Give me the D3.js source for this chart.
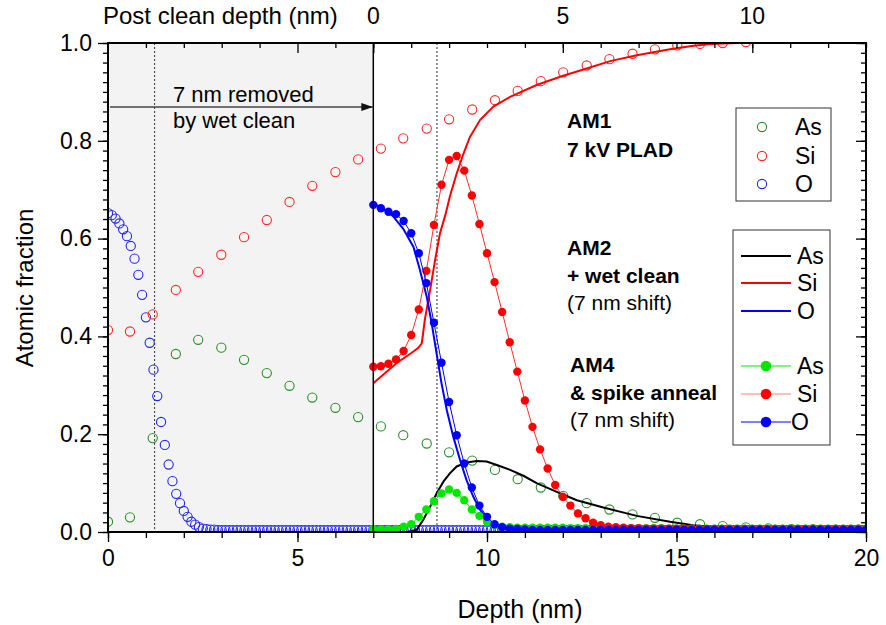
<!DOCTYPE html>
<html>
<head>
<meta charset="utf-8">
<script src="https://cdn.jsdelivr.net/npm/d3@7"></script>
<style>
body { margin: 0; background: #fff; }
text { font-family: "Liberation Sans", Arial, sans-serif; fill: #000; }
</style>
</head>
<body>
<svg id="chart" width="886" height="625"></svg>
<script>

// AM1, 7 kV PLAD (open circles)
var am1Depth = [0.0, 0.58, 1.18, 1.79, 2.38, 2.99, 3.59, 4.19, 4.79, 5.39, 6.0, 6.6, 7.2, 7.79, 8.41, 9.0,
  9.61, 10.21, 10.81, 11.42, 12.01, 12.63, 13.23, 13.84, 14.43, 15.02, 15.62, 16.22, 16.83, 17.42,
  18.04, 18.6, 19.2, 19.8]
var am1As = [0.021, 0.030, 0.192, 0.364, 0.393, 0.377, 0.352, 0.325, 0.299, 0.275, 0.254, 0.235, 0.216,
  0.198, 0.181, 0.163, 0.146, 0.127, 0.108, 0.091, 0.074, 0.059, 0.046, 0.036, 0.029, 0.019, 0.016,
  0.012, 0.0096, 0.0075, 0.006, 0.006, 0.005, 0.005]
var am1Si = [0.413, 0.410, 0.445, 0.495, 0.532, 0.567, 0.603, 0.638, 0.675, 0.708, 0.736, 0.762, 0.784,
  0.805, 0.825, 0.844, 0.864, 0.883, 0.902, 0.922, 0.940, 0.954, 0.967, 0.978, 0.987, 0.995, 0.998,
  1.0, 1.002]
// O is sampled every 0.1 nm
var am1OStep = 0.1
var am1O = [0.652, 0.648, 0.641, 0.631, 0.619, 0.605, 0.585, 0.559, 0.526, 0.485, 0.439, 0.387, 0.332,
  0.278, 0.225, 0.178, 0.138, 0.104, 0.078, 0.059, 0.043, 0.031, 0.021, 0.015, 0.010, 0.007, 0.006,
  0.005, 0.005, 0.004,
  0.004, 0.004, 0.004, 0.004, 0.004, 0.004, 0.004, 0.004, 0.004, 0.004, 0.004, 0.004, 0.004, 0.004, 0.004, 0.004, 0.004, 0.004, 0.004, 0.004,
  0.004, 0.004, 0.004, 0.004, 0.004, 0.004, 0.004, 0.004, 0.004, 0.004, 0.004, 0.004, 0.004, 0.004, 0.004, 0.004, 0.004, 0.004, 0.004, 0.004,
  0.004, 0.004, 0.004, 0.004, 0.004, 0.004, 0.004, 0.004, 0.004, 0.004, 0.004, 0.004, 0.004, 0.004, 0.004, 0.004, 0.004, 0.004, 0.004, 0.004,
  0.004, 0.004, 0.004, 0.004, 0.004, 0.004, 0.004, 0.004, 0.004, 0.004, 0.004, 0.004, 0.004, 0.004, 0.004, 0.004, 0.004, 0.004, 0.004, 0.004,
  0.004, 0.004, 0.004, 0.004, 0.004, 0.004, 0.004, 0.004, 0.004, 0.004, 0.004, 0.004, 0.004, 0.004, 0.004, 0.004, 0.004, 0.004, 0.004, 0.004,
  0.004, 0.004, 0.004, 0.004, 0.004, 0.004, 0.004, 0.004, 0.004, 0.004, 0.004, 0.004, 0.004, 0.004, 0.004, 0.004, 0.004, 0.004, 0.004, 0.004,
  0.004, 0.004, 0.004, 0.004, 0.004, 0.004, 0.004, 0.004, 0.004, 0.004, 0.004, 0.004, 0.004, 0.004, 0.004, 0.004, 0.004, 0.004, 0.004, 0.004,
  0.004, 0.004, 0.004, 0.004, 0.004, 0.004, 0.004, 0.004, 0.004, 0.004, 0.004, 0.004, 0.004, 0.004, 0.004, 0.004, 0.004, 0.004, 0.004, 0.004,
  0.004, 0.004, 0.004, 0.004, 0.004, 0.004, 0.004, 0.004, 0.004, 0.004, 0.004]

// AM2, + wet clean, shifted 7 nm (solid lines)
var am2AsDepth = [7.0, 7.9, 8.14, 8.32, 8.50, 8.67, 8.85, 9.02, 9.2, 9.46, 9.73, 9.99, 10.26, 10.61, 10.96,
  11.31, 11.84, 12.37, 13.07, 13.95, 14.83, 15.44, 16.32, 16.9, 20]
var am2As = [0.0, 0.0, 0.004, 0.025, 0.052, 0.079, 0.103, 0.120, 0.134, 0.142, 0.145, 0.144, 0.137, 0.127,
  0.115, 0.100, 0.082, 0.065, 0.050, 0.033, 0.021, 0.014, 0.0075, 0.003, 0.0]
var am2SiDepth = [7.0, 7.61, 8.06, 8.18, 8.28, 8.36, 8.50, 8.63, 8.76, 8.9, 9.02, 9.2, 9.38, 9.55, 9.82,
  10.17, 10.61, 11.31, 12.01, 12.63, 13.25, 13.95, 14.83, 15.4, 15.9, 16.6]
var am2Si = [0.304, 0.345, 0.369, 0.376, 0.386, 0.434, 0.495, 0.556, 0.611, 0.648, 0.686, 0.733, 0.774,
  0.808, 0.843, 0.870, 0.890, 0.914, 0.933, 0.948, 0.963, 0.975, 0.987, 0.994, 0.998, 1.0]
var am2ODepth = [7.0, 7.26, 7.53, 7.79, 8.06, 8.23, 8.41, 8.54, 8.67, 8.80, 8.94, 9.11, 9.29, 9.46, 9.64,
  9.82, 10.08, 10.43, 10.8, 11.5, 20]
var am2O = [0.672, 0.662, 0.645, 0.620, 0.583, 0.536, 0.481, 0.427, 0.365, 0.304, 0.249, 0.195, 0.147,
  0.106, 0.072, 0.045, 0.021, 0.0075, 0.004, 0.003, 0.003]

// AM4, & spike anneal, shifted 7 nm (filled circles), sampled every 0.2 nm from 7 nm
var am4Start = 7.0
var am4Step = 0.2
var am4As = [0.006, 0.005, 0.005, 0.006, 0.011, 0.016, 0.031, 0.046, 0.063, 0.079, 0.087, 0.080, 0.065,
  0.046, 0.033, 0.021, 0.014, 0.011, 0.010,
  0.009, 0.009, 0.009, 0.009, 0.009, 0.009, 0.009, 0.008, 0.008, 0.008, 0.008, 0.008, 0.008, 0.008, 0.008, 0.008,
  0.008, 0.008, 0.008, 0.008, 0.007, 0.007, 0.007, 0.007, 0.007, 0.007, 0.007, 0.007, 0.007, 0.007, 0.007, 0.007,
  0.007, 0.007, 0.007, 0.007, 0.007, 0.007, 0.007, 0.007, 0.007, 0.007, 0.007, 0.007, 0.007, 0.007, 0.007]
var am4Si = [0.338, 0.339, 0.344, 0.353, 0.370, 0.403, 0.455, 0.534, 0.628, 0.710, 0.761, 0.769, 0.739,
  0.688, 0.630, 0.570, 0.511, 0.450, 0.388, 0.328, 0.269, 0.215, 0.169, 0.130, 0.096, 0.072, 0.054,
  0.038, 0.028, 0.019, 0.014, 0.011, 0.010, 0.009, 0.008,
  0.008, 0.007, 0.007, 0.007, 0.007, 0.007, 0.007, 0.006, 0.006, 0.006, 0.006, 0.006, 0.006, 0.006, 0.006, 0.006,
  0.006, 0.006, 0.006, 0.006, 0.006, 0.006, 0.006, 0.006, 0.006, 0.006, 0.006, 0.006, 0.006, 0.006, 0.006]
var am4O = [0.669, 0.662, 0.655, 0.650, 0.636, 0.611, 0.570, 0.509, 0.428, 0.346, 0.266, 0.198, 0.140,
  0.091, 0.054, 0.031, 0.016, 0.010, 0.007, 0.006, 0.005,
  0.004, 0.004, 0.004, 0.004, 0.004, 0.004, 0.004, 0.004, 0.004, 0.004, 0.004, 0.004, 0.004, 0.004, 0.004,
  0.004, 0.004, 0.004, 0.004, 0.004, 0.004, 0.004, 0.004, 0.004, 0.004, 0.004, 0.004, 0.004, 0.004, 0.004,
  0.004, 0.004, 0.004, 0.004, 0.004, 0.004, 0.004, 0.004, 0.004, 0.004, 0.004, 0.004, 0.004, 0.004, 0.004]

var xTicks = [0, 5, 10, 15, 20]
var yTicks = [0, 0.2, 0.4, 0.6, 0.8, 1.0]
var topTicks = [0, 5, 10]
var removedDepth = 7
var markerDepths = [1.23, 8.68]

var svg = d3.select('#chart')

var x = d3.scaleLinear().domain([0, 20]).range([108, 866])
var y = d3.scaleLinear().domain([0, 1]).range([532, 43])
var xTop = d3.scaleLinear().domain([0, 13]).range([x(7), x(20)])

svg.append('defs').append('clipPath').attr('id', 'clip')
  .append('rect')
  .attr('x', x(0)).attr('y', y(1))
  .attr('width', x(20) - x(0)).attr('height', y(0) - y(1))

// grey region that the wet clean removed
svg.append('rect')
  .attr('x', x(0)).attr('y', y(1))
  .attr('width', x(removedDepth) - x(0)).attr('height', y(0) - y(1))
  .style('fill', '#f3f3f3')

svg.selectAll('line.mark')
  .data(markerDepths)
  .enter()
  .append('line')
  .attr('x1', function(d) { return x(d); })
  .attr('x2', function(d) { return x(d); })
  .attr('y1', y(1))
  .attr('y2', y(0))
  .style('stroke', '#333')
  .style('stroke-width', 1)
  .style('stroke-dasharray', '2,2')

var plot = svg.append('g').attr('clip-path', 'url(#clip)')

var openCircles = function(depths, values, color) {
  plot.append('g').selectAll('circle')
    .data(values)
    .enter()
    .append('circle')
    .attr('cx', function(d, i) { return x(depths(i)); })
    .attr('cy', function(d) { return y(d); })
    .attr('r', 4.6)
    .style('fill', 'none')
    .style('stroke', color)
    .style('stroke-width', 1.1)
}

openCircles(function(i) { return i * am1OStep; }, am1O, '#2424ff')
openCircles(function(i) { return am1Depth[i]; }, am1Si, '#ff2a2a')
openCircles(function(i) { return am1Depth[i]; }, am1As, '#2a8f2a')

var solid = function(depths, values, color) {
  var line = d3.line()
    .x(function(d, i) { return x(depths[i]); })
    .y(function(d) { return y(d); })
  plot.append('path')
    .datum(values)
    .attr('d', line)
    .style('fill', 'none')
    .style('stroke', color)
    .style('stroke-width', 2)
}

solid(am2AsDepth, am2As, '#000')
solid(am2SiDepth, am2Si, '#ff0000')
solid(am2ODepth, am2O, '#0000ff')

var filled = function(values, color, lineColor) {
  var line = d3.line()
    .x(function(d, i) { return x(am4Start + i * am4Step); })
    .y(function(d) { return y(d); })
  plot.append('path')
    .datum(values)
    .attr('d', line)
    .style('fill', 'none')
    .style('stroke', lineColor)
    .style('stroke-width', 1)
  plot.append('g').selectAll('circle')
    .data(values)
    .enter()
    .append('circle')
    .attr('cx', function(d, i) { return x(am4Start + i * am4Step); })
    .attr('cy', function(d) { return y(d); })
    .attr('r', 4.2)
    .style('fill', color)
}

filled(am4As, '#00e600', '#00e600')
filled(am4Si, '#ff0000', '#ff3030')
filled(am4O, '#0000ff', '#0000ff')

// vertical line at the removed depth
svg.append('line')
  .attr('x1', x(removedDepth)).attr('x2', x(removedDepth))
  .attr('y1', y(1)).attr('y2', y(0))
  .style('stroke', '#000')
  .style('stroke-width', 1.5)

// arrow
svg.append('defs').append('marker')
  .attr('id', 'arrow')
  .attr('viewBox', '0 0 12 8')
  .attr('refX', 12).attr('refY', 4)
  .attr('markerWidth', 12).attr('markerHeight', 8)
  .attr('markerUnits', 'userSpaceOnUse')
  .attr('orient', 'auto')
  .append('path')
  .attr('d', 'M0,0 L12,4 L0,8 Z')
  .style('fill', '#111')

svg.append('line')
  .attr('x1', x(0) + 2).attr('x2', x(removedDepth))
  .attr('y1', 107).attr('y2', 107)
  .style('stroke', '#444')
  .style('stroke-width', 1.3)
  .attr('marker-end', 'url(#arrow)')

svg.append('text').attr('x', 173).attr('y', 102).style('font-size', '22px').text('7 nm removed')
svg.append('text').attr('x', 173).attr('y', 128).style('font-size', '22px').text('by wet clean')

// axes
var axisStyle = function(g) {
  g.select('.domain').remove()
  g.selectAll('line').style('stroke', '#000').style('stroke-width', 1.3)
  g.selectAll('text').style('font-size', '23px').style('font-family', '"Liberation Sans", Arial, sans-serif')
}

svg.append('g').attr('transform', 'translate(0,' + y(0) + ')')
  .call(d3.axisBottom(x).tickValues(d3.range(0, 21, 1)).tickSize(6).tickFormat(''))
  .call(axisStyle)
svg.append('g').attr('transform', 'translate(0,' + y(0) + ')')
  .call(d3.axisBottom(x).tickValues(xTicks).tickSize(10).tickPadding(8).tickFormat(d3.format('d')))
  .call(axisStyle)

svg.append('g').attr('transform', 'translate(' + x(0) + ',0)')
  .call(d3.axisLeft(y).tickValues(d3.range(0, 51, 1).map(function(i) { return i / 50; })).tickSize(5).tickFormat(''))
  .call(axisStyle)
svg.append('g').attr('transform', 'translate(' + x(0) + ',0)')
  .call(d3.axisLeft(y).tickValues(yTicks).tickSize(10).tickPadding(6).tickFormat(d3.format('.1f')))
  .call(axisStyle)

svg.append('g').attr('transform', 'translate(' + x(20) + ',0)')
  .call(d3.axisLeft(y).tickValues(d3.range(0, 51, 1).map(function(i) { return i / 50; })).tickSize(5).tickFormat(''))
  .call(axisStyle)
svg.append('g').attr('transform', 'translate(' + x(20) + ',0)')
  .call(d3.axisLeft(y).tickValues(yTicks).tickSize(10).tickFormat(''))
  .call(axisStyle)

// top: depth ticks over the grey part, post clean depth to the right
svg.append('g').attr('transform', 'translate(0,' + y(1) + ')')
  .call(d3.axisBottom(x).tickValues([1, 2, 3, 4, 6]).tickSize(5).tickFormat(''))
  .call(axisStyle)
svg.append('g').attr('transform', 'translate(0,' + y(1) + ')')
  .call(d3.axisBottom(x).tickValues([5]).tickSize(10).tickFormat(''))
  .call(axisStyle)
svg.append('g').attr('transform', 'translate(0,' + y(1) + ')')
  .call(d3.axisBottom(xTop).tickValues(d3.range(0, 14, 1)).tickSize(5).tickFormat(''))
  .call(axisStyle)
svg.append('g').attr('transform', 'translate(0,' + y(1) + ')')
  .call(d3.axisBottom(xTop).tickValues(topTicks).tickSize(10).tickFormat(''))
  .call(axisStyle)

svg.selectAll('text.toplabel')
  .data(topTicks)
  .enter()
  .append('text')
  .attr('x', function(d) { return xTop(d); })
  .attr('y', 24)
  .attr('text-anchor', 'middle')
  .style('font-size', '23px')
  .text(function(d) { return d; })

svg.append('rect')
  .attr('x', x(0)).attr('y', y(1))
  .attr('width', x(20) - x(0)).attr('height', y(0) - y(1))
  .style('fill', 'none')
  .style('stroke', '#000')
  .style('stroke-width', 2)

// axis titles
svg.append('text').attr('x', 520).attr('y', 618).attr('text-anchor', 'middle')
  .style('font-size', '25px').text('Depth (nm)')
svg.append('text').attr('transform', 'translate(33,288) rotate(-90)').attr('text-anchor', 'middle')
  .style('font-size', '24px').text('Atomic fraction')
svg.append('text').attr('x', 103).attr('y', 24)
  .style('font-size', '24px').text('Post clean depth (nm)')

// sample annotations
var note = function(tx, ty, str, bold) {
  svg.append('text').attr('x', tx).attr('y', ty)
    .style('font-size', '21px')
    .style('font-weight', bold ? 'bold' : 'normal')
    .text(str)
}
note(567, 128, 'AM1', true)
note(567, 157, '7 kV PLAD', true)
note(567, 255, 'AM2', true)
note(567, 283, '+ wet clean', true)
note(567, 310, '(7 nm shift)', false)
note(570, 372, 'AM4', true)
note(570, 400, '& spike anneal', true)
note(570, 427, '(7 nm shift)', false)

// legend boxes
var legendLabels = ['As', 'Si', 'O']
var openColors = ['#2a8f2a', '#ff2a2a', '#2424ff']
var am2Colors = ['#000', '#ff0000', '#0000ff']
var am4Colors = ['#00e600', '#ff0000', '#0000ff']
var am4LineColors = ['#00e600', '#ff8080', '#0000ff']

svg.append('rect').attr('x', 736).attr('y', 108).attr('width', 95).attr('height', 93)
  .style('fill', '#fff').style('stroke', '#333').style('stroke-width', 1)
var leg1 = svg.append('g').selectAll('g')
  .data(legendLabels)
  .enter()
  .append('g')
  .attr('transform', function(d, i) { return 'translate(0,' + [127, 156, 184][i] + ')'; })
leg1.append('circle').attr('cx', 762).attr('cy', 0).attr('r', 4.6)
  .style('fill', 'none').style('stroke-width', 1.1)
  .style('stroke', function(d, i) { return openColors[i]; })
leg1.append('text').attr('x', 795).attr('y', 8).style('font-size', '23px').text(function(d) { return d; })

svg.append('rect').attr('x', 733).attr('y', 230).attr('width', 97).attr('height', 215)
  .style('fill', '#fff').style('stroke', '#333').style('stroke-width', 1)
var leg2 = svg.append('g').selectAll('g')
  .data(legendLabels)
  .enter()
  .append('g')
  .attr('transform', function(d, i) { return 'translate(0,' + [256, 283, 311][i] + ')'; })
leg2.append('line').attr('x1', 741).attr('x2', 791).attr('y1', 0).attr('y2', 0)
  .style('stroke-width', 2)
  .style('stroke', function(d, i) { return am2Colors[i]; })
leg2.append('text').attr('x', 797).attr('y', 8).style('font-size', '23px').text(function(d) { return d; })

var leg3 = svg.append('g').selectAll('g')
  .data(legendLabels)
  .enter()
  .append('g')
  .attr('transform', function(d, i) { return 'translate(0,' + [366, 394, 422][i] + ')'; })
leg3.append('line').attr('x1', 741).attr('x2', 791).attr('y1', 0).attr('y2', 0)
  .style('stroke-width', 1)
  .style('stroke', function(d, i) { return am4LineColors[i]; })
leg3.append('circle').attr('cx', 766).attr('cy', 0).attr('r', 5.3)
  .style('fill', function(d, i) { return am4Colors[i]; })
leg3.append('text').attr('x', function(d, i) { return i == 2 ? 791 : 797; }).attr('y', 8)
  .style('font-size', '23px').text(function(d) { return d; })

</script>
</body>
</html>
